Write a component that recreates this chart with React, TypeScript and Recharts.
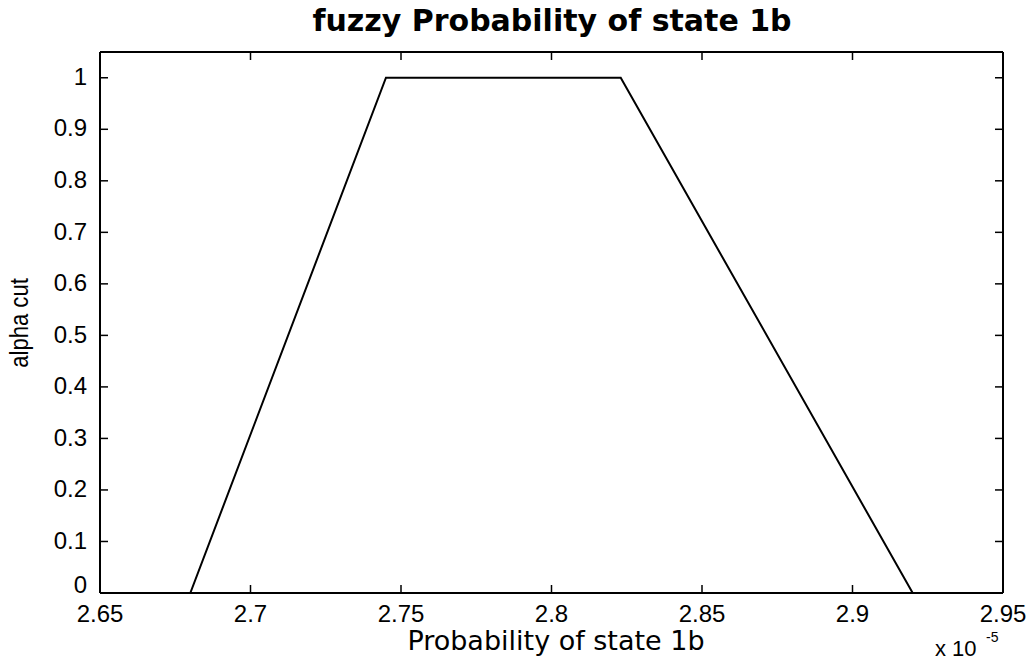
import { LineChart, Line, XAxis, YAxis, ReferenceLine } from "recharts";

// membership function of the fuzzy probability (x in units of 1e-5)
const probability = [2.68, 2.745, 2.823, 2.92];
const alphaCut = [0, 1, 1, 0];

const xTicks = [2.65, 2.7, 2.75, 2.8, 2.85, 2.9, 2.95];
const yTicks = [0, 0.1, 0.2, 0.3, 0.4, 0.5, 0.6, 0.7, 0.8, 0.9, 1];

const data = probability.map((p, i) => ({ p, alpha: alphaCut[i] }));

const W = 1034;
const H = 664;
const PLOT = { left: 100, right: 1003, top: 52, bottom: 593 };
const FONT = '"Liberation Sans", Arial, Helvetica, sans-serif';
const WIDE_FONT = '"DejaVu Sans", Verdana, sans-serif';
const TICK_LEN = 8;

// matlab-style inward ticks on both sides of the box
const XTick = ({ x, payload }: any) => (
  <g>
    <line x1={x} x2={x} y1={PLOT.bottom} y2={PLOT.bottom - TICK_LEN} stroke="#000" strokeWidth={1.5} />
    <line x1={x} x2={x} y1={PLOT.top} y2={PLOT.top + TICK_LEN} stroke="#000" strokeWidth={1.5} />
    <text x={x} y={622} textAnchor="middle" fontSize={24} fontFamily={FONT} fill="#000">
      {payload.value}
    </text>
  </g>
);

// the "0" label sits on the axis so it clears the first x label
const YTick = ({ y, payload }: any) => (
  <g>
    <line x1={PLOT.left} x2={PLOT.left + TICK_LEN} y1={y} y2={y} stroke="#000" strokeWidth={1.5} />
    <line x1={PLOT.right} x2={PLOT.right - TICK_LEN} y1={y} y2={y} stroke="#000" strokeWidth={1.5} />
    <text
      x={PLOT.left - 13}
      y={payload.value === 0 ? PLOT.bottom : y}
      dy={payload.value === 0 ? 0 : "0.3em"}
      textAnchor="end"
      fontSize={24}
      fontFamily={FONT}
      fill="#000"
    >
      {payload.value}
    </text>
  </g>
);

export default function App() {
  return (
    <div style={{ position: "absolute", left: 0, top: 0, width: W, height: H, background: "#fff" }}>
      <LineChart
        width={W}
        height={H}
        data={data}
        margin={{ top: PLOT.top, right: W - PLOT.right, left: PLOT.left - 60, bottom: H - PLOT.bottom - 30 }}
      >
        <XAxis
          dataKey="p"
          type="number"
          domain={[2.65, 2.95]}
          ticks={xTicks}
          interval={0}
          height={30}
          allowDataOverflow
          tickLine={false}
          tick={XTick}
          axisLine={{ stroke: "#000", strokeWidth: 2 }}
        />
        <YAxis
          type="number"
          domain={[0, 1.05]}
          ticks={yTicks}
          interval={0}
          width={60}
          allowDataOverflow
          tickLine={false}
          tick={YTick}
          axisLine={{ stroke: "#000", strokeWidth: 2 }}
        />
        <ReferenceLine y={1.05} stroke="#000" strokeWidth={2} />
        <ReferenceLine x={2.95} stroke="#000" strokeWidth={2} />
        <Line
          type="linear"
          dataKey="alpha"
          stroke="#000"
          strokeWidth={2}
          dot={false}
          isAnimationActive={false}
        />
      </LineChart>

      {/* title, axis labels and the x-axis exponent */}
      <svg
        width={W}
        height={H}
        style={{ position: "absolute", left: 0, top: 0, pointerEvents: "none" }}
      >
        <text x={552} y={31} textAnchor="middle" fontSize={30} fontWeight="bold" fontFamily={WIDE_FONT} fill="#000">
          fuzzy Probability of state 1b
        </text>
        <text x={556} y={650} textAnchor="middle" fontSize={27} fontFamily={WIDE_FONT} fill="#000">
          Probability of state 1b
        </text>
        {/* condensed vertical label */}
        <text
          x={0}
          y={0}
          transform="translate(28 323) rotate(-90) scale(0.85 1)"
          textAnchor="middle"
          fontSize={26}
          fontFamily={FONT}
          fill="#000"
        >
          alpha cut
        </text>
        <text x={935} y={656} fontSize={22} fontFamily={FONT} fill="#000">
          x 10
        </text>
        <text x={986} y={642} fontSize={14} fontFamily={FONT} fill="#000">
          -5
        </text>
      </svg>
    </div>
  );
}
